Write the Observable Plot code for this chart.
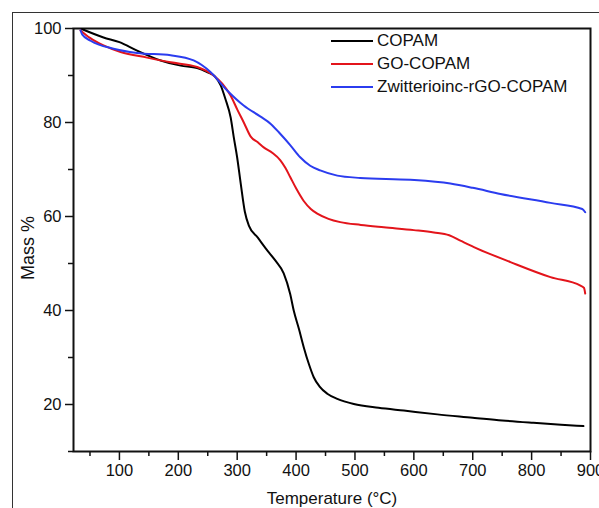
<!DOCTYPE html>
<html><head><meta charset="utf-8">
<script src="https://cdn.jsdelivr.net/npm/d3@7"></script>
<script src="https://cdn.jsdelivr.net/npm/@observablehq/plot@0.6"></script>
<style>
body{margin:0;background:#fff;}
#wrap{position:relative;width:599px;height:508px;overflow:hidden;font-family:"Liberation Sans",Arial,sans-serif;color:#111;}
#wrap svg{position:absolute;left:0;top:0;}
#border{position:absolute;left:12px;top:12px;width:700px;height:700px;border:1.5px solid #333;box-sizing:border-box;}
#legend{position:absolute;left:331px;top:29px;font-size:17px;}
.row{display:flex;align-items:center;height:23px;white-space:nowrap;}
.sw{width:42px;height:2px;margin-right:4px;}
</style></head>
<body><div id="wrap"><div id="border"></div></div>
<script>
const seriesNames = ["COPAM", "GO-COPAM", "Zwitterioinc-rGO-COPAM"];
const seriesColors = ["#000000", "#e3141b", "#2b3cef"];
const xLabel = "Temperature (°C)";
const yLabel = "Mass %";

const copamT = [36,73,100,130,170,204,232,248,262,272,280,289,294,300,306,313,320,335,351,365,379,390,396,405,413,422,430,440,453,470,498,540,583,640,700,750,803,850,888];
const copamM = [99.9,98.1,97.1,95.3,93.2,92.1,91.6,90.8,89.8,87.9,85,81,77,72.5,67,61,58,55.5,52.8,50.6,47.9,43.5,40,36,32.2,28.5,25.8,23.8,22.3,21.2,20.1,19.3,18.7,17.9,17.2,16.6,16.1,15.7,15.4];

const goT = [34,50,73,102,147,187,232,260,275,289,300,312,323,335,345,360,373,382,390,400,413,425,436,455,475,510,549,600,634,660,680,702,764,832,883,889,891];
const goM = [99.6,98.0,96.4,95.0,93.8,92.8,91.8,90,88.2,85.7,82.8,79.8,77,75.8,74.7,73.5,72,70.3,68.4,66,63.3,61.6,60.6,59.5,58.8,58.2,57.7,57.1,56.6,56,54.8,53.5,50.3,47.1,45.3,44.8,43.6];

const zwT = [34,37,51,90,130,187,226,255,283,311,339,357,373,390,407,424,441,470,509,594,662,700,747,832,886,891];
const zwM = [99.6,98.7,97.4,95.7,94.8,94.3,93.2,90.7,86.8,83.6,81.3,79.7,77.6,75.2,72.6,70.8,69.8,68.7,68.2,67.8,67,66.1,64.8,62.9,61.6,60.9];

const xTicks = [100,200,300,400,500,600,700,800,900];
const xMinor = [50,150,250,350,450,550,650,750,850];
const yTicks = [20,40,60,80,100];
const yMinor = [10,30,50,70,90];

const seriesT = [copamT, goT, zwT];
const seriesM = [copamM, goM, zwM];
const data = [];
seriesNames.forEach((name, k) => seriesT[k].forEach((t, i) => data.push({series: name, T: t, M: seriesM[k][i]})));

const chart = Plot.plot({
  width: 599, height: 508,
  marginLeft: 73, marginTop: 28, marginRight: 9, marginBottom: 57,
  style: {fontFamily: "Liberation Sans, Arial, sans-serif", fontSize: "16.5px", background: "transparent", color: "#111", overflow: "visible"},
  x: {domain: [22, 900]},
  y: {domain: [10, 100]},
  color: {domain: seriesNames, range: seriesColors},
  marks: [
    Plot.frame({strokeWidth: 2}),
    Plot.axisX({ticks: xTicks, tickSize: 9, tickPadding: 4, strokeWidth: 1.5, label: null}),
    Plot.axisX({ticks: xMinor, tickSize: 5, strokeWidth: 1.5, tickFormat: () => "", label: null}),
    Plot.axisY({ticks: yTicks, tickSize: 8, tickPadding: 4, strokeWidth: 1.5, label: null}),
    Plot.axisY({ticks: yMinor, tickSize: 5, strokeWidth: 1.5, tickFormat: () => "", label: null}),
    Plot.text([xLabel], {frameAnchor: "bottom", textAnchor: "middle", dy: 52, fontSize: 17, fill: "#111"}),
    Plot.text([yLabel], {frameAnchor: "left", textAnchor: "middle", rotate: -90, dx: -45, dy: 8, fontSize: 18, fill: "#111"}),
    Plot.line(data, {x: "T", y: "M", z: "series", stroke: "series", strokeWidth: 2, curve: "monotone-x"})
  ]
});
const wrap = document.getElementById("wrap");
wrap.appendChild(chart);

const legend = document.createElement("div");
legend.id = "legend";
seriesNames.forEach((name, k) => {
  const row = document.createElement("div");
  row.className = "row";
  const sw = document.createElement("div");
  sw.className = "sw";
  sw.style.background = seriesColors[k];
  const tx = document.createElement("span");
  tx.textContent = name;
  row.appendChild(sw); row.appendChild(tx);
  legend.appendChild(row);
});
wrap.appendChild(legend);
</script>
</body></html>
